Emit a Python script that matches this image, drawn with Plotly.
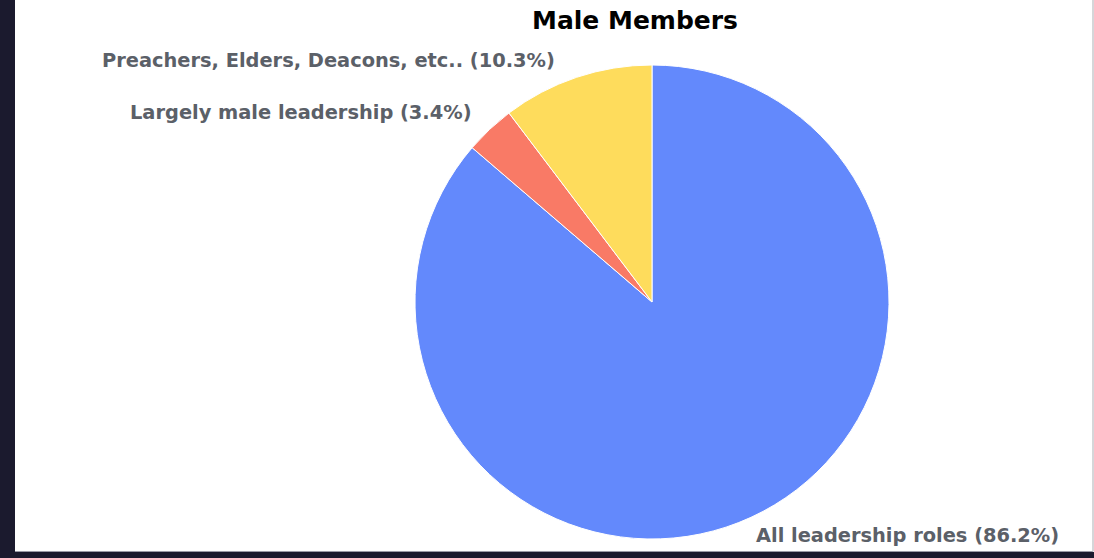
import plotly.graph_objects as go

W, H = 1094, 558

categories = ["All leadership roles", "Largely male leadership", "Preachers, Elders, Deacons, etc.."]
values = [86.2, 3.4, 10.3]
colors = ["#6389fc", "#f97a66", "#fedc5c"]
title_text = "Male Members"

label_texts = [f"{c} ({v}%)" for c, v in zip(categories, values)]

def px(x):
    return x / W

def py(y):
    return 1 - y / H

fig = go.Figure(go.Pie(
    labels=categories,
    values=values,
    sort=False,
    direction="clockwise",
    rotation=0,
    textinfo="none",
    hoverinfo="label+percent",
    marker=dict(colors=colors, line=dict(color="#ffffff", width=1)),
    domain=dict(x=[px(415), px(889)], y=[py(539), py(65)]),
    showlegend=False,
))

label_font = dict(family="DejaVu Sans", size=19.4, color="#5b6068", weight="bold")
# label anchor points (pixels): (x, y, xanchor)
label_pos = [(754, 535, "left"), (474, 113, "right"), (557, 61, "right")]
annotations = []
for t, (x, y, xa) in zip(label_texts, label_pos):
    annotations.append(dict(
        text=t, x=px(x), y=py(y), xref="paper", yref="paper",
        xanchor=xa, yanchor="middle", showarrow=False, font=label_font,
    ))

dark = "#1b1a2e"
shapes = [
    dict(type="rect", xref="paper", yref="paper", x0=0, x1=px(15), y0=0, y1=1,
         fillcolor=dark, line=dict(width=0), layer="above"),
    dict(type="rect", xref="paper", yref="paper", x0=0, x1=1, y0=0, y1=py(552),
         fillcolor=dark, line=dict(width=0), layer="above"),
    dict(type="line", xref="paper", yref="paper", x0=px(15), x1=px(1093), y0=py(551.5), y1=py(551.5),
         line=dict(color="#9a9aa6", width=1), layer="above"),
    dict(type="line", xref="paper", yref="paper", x0=px(1093), x1=px(1093), y0=py(551.5), y1=1,
         line=dict(color="#c8c8cc", width=1.5), layer="above"),
]

fig.update_layout(
    width=W, height=H,
    margin=dict(l=0, r=0, t=0, b=0),
    paper_bgcolor="#ffffff",
    plot_bgcolor="#ffffff",
    title=dict(text=title_text, x=px(635), y=py(20), xanchor="center", yanchor="middle",
               font=dict(family="DejaVu Sans", size=25, color="#000000", weight="bold")),
    annotations=annotations,
    shapes=shapes,
)

fig.write_html("out.html")
